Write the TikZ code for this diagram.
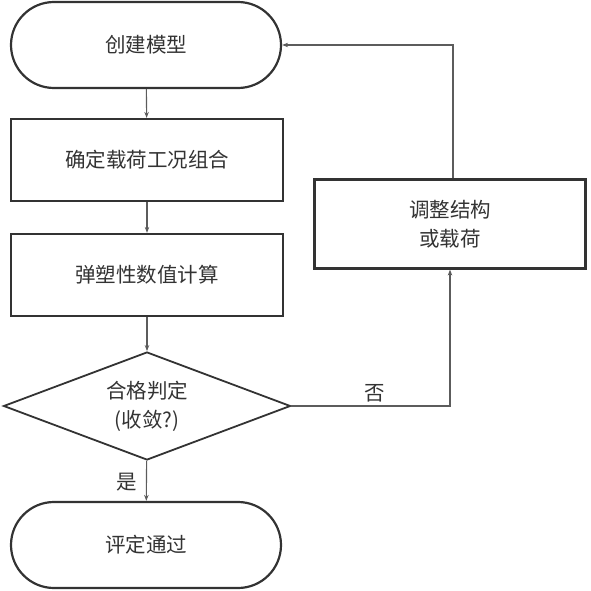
\documentclass[tikz,border=0pt]{standalone}
\usepackage{fontspec}
\setmainfont{Noto Sans CJK SC}
\usetikzlibrary{shapes.geometric,arrows.meta}
\definecolor{ink}{HTML}{333333}
\begin{document}
\begin{tikzpicture}[x=1pt,y=-1pt,
  font=\fontsize{20.5}{29}\selectfont, text=ink,
  term/.style={draw=ink, line width=2.2pt, rounded corners=43pt, minimum width=270pt, minimum height=86pt, inner sep=0pt},
  procbox/.style={draw=ink, line width=2.2pt, minimum width=272pt, inner sep=0pt, align=center},
  decide/.style={draw=ink, line width=1.8pt, diamond, aspect=2.66, minimum width=287pt, minimum height=108pt, inner sep=0pt, align=center},
  conn/.style={draw=ink!80, line width=1.1pt, -{Stealth[length=6pt,width=4.5pt]}},
  lbl/.style={inner sep=0pt}]
\useasboundingbox (0,0) rectangle (591,591);
\node[term] (start) at (146,45) {创建模型};
\node[procbox, minimum height=82pt] (load) at (147,160) {确定载荷工况组合};
\node[procbox, minimum height=82pt] (calc) at (147,275) {弹塑性数值计算};
\node[decide] (dec) at (147,406) {合格判定\\(收敛?)};
\node[term] (pass) at (146,545) {评定通过};
\node[procbox, minimum width=271pt, minimum height=89pt] (adj) at (450,224) {调整结构\\或载荷};
\coordinate (c1) at (450,406);
\coordinate (c2) at (453,45);
\draw[conn] (start) -- (load);
\draw[conn] (load) -- (calc);
\draw[conn] (calc) -- (dec);
\draw[conn] (dec) -- (pass);
\draw[conn] (dec.east) -- (c1) -- (adj.south -| c1);
\draw[conn] (adj.north -| c2) -- (c2) -- (start.east);
\node[lbl] (no) at (375,393) {否};
\node[lbl] (yes) at (127,482) {是};
\end{tikzpicture}
\end{document}
